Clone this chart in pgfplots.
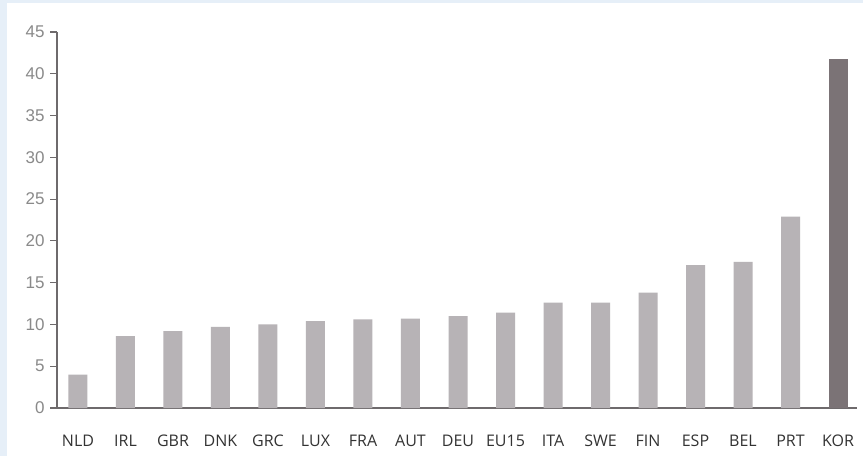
\documentclass[border=0pt]{standalone}
\usepackage{pgfplots}
\pgfplotsset{compat=1.18}
\usepackage{fontspec}
\setmainfont{Liberation Sans}
\newfontfamily\catfont{Open Sans}
\definecolor{bord}{HTML}{E6EFF8}
\definecolor{barc}{HTML}{B7B3B6}
\definecolor{korc}{HTML}{7B7376}
\definecolor{axc}{HTML}{6E6A6C}
\definecolor{numc}{HTML}{8A8A8A}
\definecolor{labc}{HTML}{333333}
\begin{document}
\begin{tikzpicture}
\fill[white] (0pt,0pt) rectangle (863pt,456pt);
\fill[bord] (0pt,0pt) rectangle (7pt,456pt);
\fill[bord] (0pt,453pt) rectangle (863pt,456pt);
\begin{axis}[
  at={(57pt,48pt)}, anchor=south west,
  scale only axis, width=800pt, height=376pt,
  xmin=-0.442, xmax=16.4, ymin=0, ymax=45,
  axis lines*=left,
  axis line style={axc, line width=1.2pt, -},
  xtick={0,...,16},
  xticklabels={NLD,IRL,GBR,DNK,GRC,LUX,FRA,AUT,DEU,EU15,ITA,SWE,FIN,ESP,BEL,PRT,KOR},
  x tick style={draw=none},
  xticklabel style={font=\catfont\fontsize{16}{16}\selectfont, text=labc, anchor=base, yshift=-31pt},
  ytick={0,5,...,45},
  y tick style={axc, line width=1.2pt},
  major tick length=7pt,
  tick align=outside,
  yticklabel style={font=\fontsize{17}{17}\selectfont, text=numc, xshift=-2pt},
  /pgf/number format/assume math mode=true,
  ybar=0pt, bar width=19pt, bar shift=0pt,
  clip=false,
]
\addplot[fill=barc, draw=none, bar shift=0pt] coordinates {
(0,4.0) (1,8.6) (2,9.2) (3,9.7) (4,10.0) (5,10.4) (6,10.6) (7,10.7) (8,11.0) (9,11.4) (10,12.6) (11,12.6) (12,13.8) (13,17.1) (14,17.5) (15,22.9)};
\addplot[fill=korc, draw=none, bar shift=0pt] coordinates {(16,41.8)};
\end{axis}
\end{tikzpicture}
\end{document}
